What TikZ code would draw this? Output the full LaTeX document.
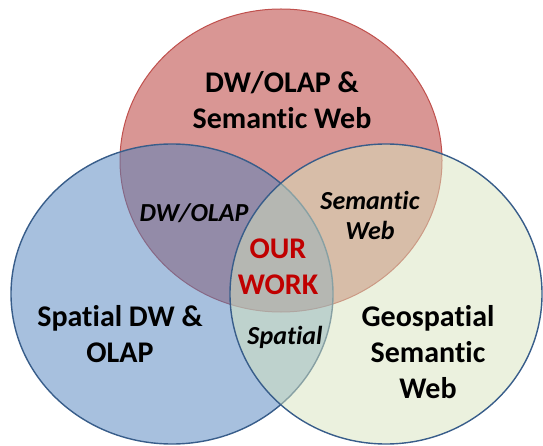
\documentclass[tikz,border=0pt]{standalone}
\usepackage{fontspec}
\setmainfont{Carlito}[Ligatures=NoCommon]
\usepackage{tikz}

\definecolor{redfill}{HTML}{D99694}
\definecolor{redline}{HTML}{C0504D}
\definecolor{bluefill}{HTML}{4F81BD}
\definecolor{greenfill}{HTML}{D7E4BD}
\definecolor{ringline}{HTML}{385D8A}
\definecolor{ourred}{HTML}{C00000}

\tikzset{
  mainlbl/.style={inner sep=0pt, align=center, font=\fontsize{30}{36}\selectfont\bfseries},
  sublbl/.style={inner sep=0pt, align=center, font=\fontsize{26}{30}\selectfont\bfseries\itshape}
}

\begin{document}
\begin{tikzpicture}[x=1pt,y=-1pt]
	\useasboundingbox (0,0) rectangle (543,446);
	% the three sets
	\draw[redline, line width=1pt, fill=redfill] (281,160.5) ellipse [x radius=161, y radius=151.5];
	\draw[ringline, line width=1.4pt, fill=bluefill, fill opacity=0.5] (172,294) ellipse [x radius=161, y radius=150];
	\draw[ringline, line width=1.4pt, fill=greenfill, fill opacity=0.5] (386,294) ellipse [x radius=156, y radius=150];
	% set names
	\node[mainlbl] (dwsw) at (282,100.5) {DW/OLAP \&\\Semantic Web};
	\node[mainlbl] (sdw) at (120,334) {Spatial DW \&\\OLAP};
	\node[mainlbl] (gsw) at (428,352) {Geospatial\\Semantic\\Web};
	% overlaps
	\node[sublbl] (dw) at (194,213) {DW/OLAP};
	\node[sublbl] (sw) at (370,215) {Semantic\\Web};
	\node[sublbl] (sp) at (285,337) {Spatial};
	\node[mainlbl, text=ourred] (our) at (278,266.5) {OUR\\WORK};
\end{tikzpicture}
\end{document}
